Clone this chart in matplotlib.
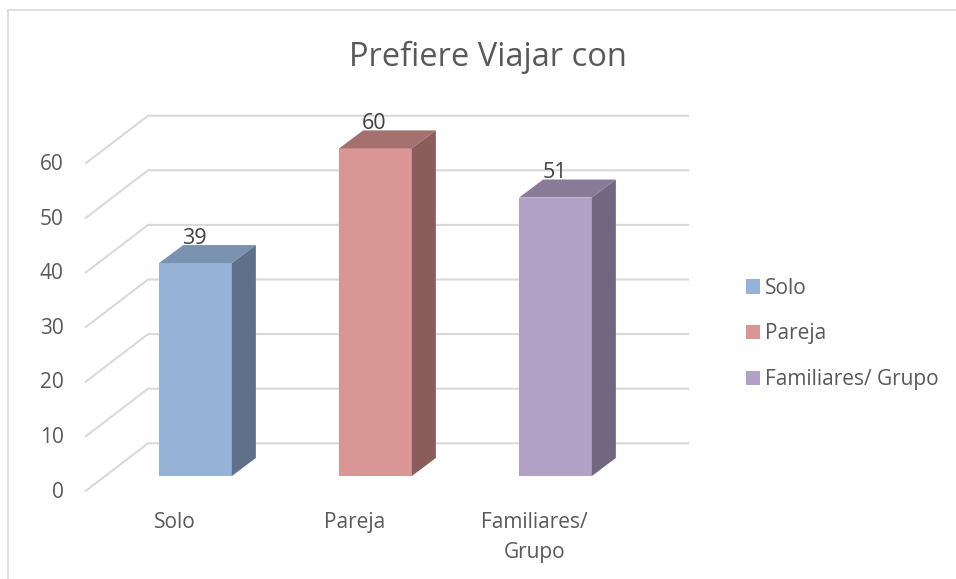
import matplotlib
matplotlib.use("Agg")
import matplotlib.pyplot as plt
from matplotlib.patches import Polygon, Patch
from matplotlib.transforms import ScaledTranslation

plt.rcParams['font.family'] = ['Open Sans', 'DejaVu Sans']

categories = ["Solo", "Pareja", "Familiares/\nGrupo"]
legend_labels = ["Solo", "Pareja", "Familiares/ Grupo"]
values = [39, 60, 51]
y_ticks = [0, 10, 20, 30, 40, 50, 60]
title = "Prefiere Viajar con"

front_colors = ["#95B3D7", "#D99694", "#B3A2C7"]
top_colors = ["#7A92B0", "#A4716F", "#887B98"]
side_colors = ["#5F7188", "#8A5C5B", "#726781"]

W, H = 956, 579
fig = plt.figure(figsize=(W / 100, H / 100), dpi=100, facecolor="white")

# page frame lines
fig.add_artist(plt.Line2D([7.5 / W, 7.5 / W], [0, 1 - 9.5 / H], color="#D9D9D9", lw=1.2))
fig.add_artist(plt.Line2D([7.5 / W, 1], [1 - 9.5 / H, 1 - 9.5 / H], color="#D9D9D9", lw=1.2))

# axes box in pixels
ax_l, ax_r, ax_top, ax_bot = 86, 688, 115, 491
ax = fig.add_axes([ax_l / W, 1 - ax_bot / H, (ax_r - ax_l) / W, (ax_bot - ax_top) / H])

px_per_cat = 180.0
px_per_val = 5.46
x0_px = 195.5   # px centre of first bar
y0_px = 476.0   # px of value 0 on the bar plane
ax.set_xlim((ax_l - x0_px) / px_per_cat, (ax_r - x0_px) / px_per_cat)
ax.set_ylim((y0_px - ax_bot) / px_per_val, (y0_px - ax_top) / px_per_val)
for s in ax.spines.values():
    s.set_visible(False)
ax.patch.set_alpha(0)

# depth of the pseudo 3-D view, data units
bar_w = 72.7 / px_per_cat
dx = 24.0 / px_per_cat
dy = 18.0 / px_per_val
# wall / floor geometry
wall_x = (148 - x0_px) / px_per_cat
front_x = (ax_l - x0_px) / px_per_cat
right_x = (ax_r - x0_px) / px_per_cat
front_off = (y0_px - 490.7) / px_per_val
wall_off = (y0_px - 443.3) / px_per_val

for t in y_ticks:
    ax.plot([front_x, wall_x, right_x],
            [t + front_off, t + wall_off, t + wall_off],
            color="#D9D9D9", lw=1.5, zorder=1, clip_on=False, solid_joinstyle="miter")

for i, v in enumerate(values):
    l, r = i - bar_w / 2, i + bar_w / 2
    ax.bar(i, v, width=bar_w, color=front_colors[i], zorder=3, linewidth=0)
    ax.add_patch(Polygon([(l, v), (r, v), (r + dx, v + dy), (l + dx, v + dy)],
                         closed=True, facecolor=top_colors[i], lw=0, zorder=3, clip_on=False))
    ax.add_patch(Polygon([(r, 0), (r + dx, dy), (r + dx, v + dy), (r, v)],
                         closed=True, facecolor=side_colors[i], lw=0, zorder=3, clip_on=False))
    ax.text(i - 1 / px_per_cat, v + 25 / px_per_val, str(v), ha="center", va="center",
            fontsize=15.5, color="#404040", zorder=4)

# axis ticks and labels, moved to the front edge of the floor
ax.set_yticks(y_ticks)
ax.set_yticklabels([str(t) for t in y_ticks])
ax.tick_params(axis="y", length=0, pad=16, labelsize=15, labelcolor="#595959")
ax.set_xticks(range(len(categories)))
ax.set_xticklabels(categories, linespacing=1.6)
ax.tick_params(axis="x", length=0, pad=15, labelsize=15, labelcolor="#595959")
for lab in ax.get_yticklabels():
    lab.set_transform(lab.get_transform() + ScaledTranslation(0, -13.7 / 100, fig.dpi_scale_trans))
for lab in ax.get_xticklabels():
    lab.set_transform(lab.get_transform() + ScaledTranslation(-21 / 100, 0, fig.dpi_scale_trans))

fig.text(488 / W, 1 - 57 / H, title, ha="center", va="center", fontsize=23.5, color="#595959")

handles = [Patch(facecolor=c, edgecolor="none") for c in front_colors]
leg = fig.legend(handles, legend_labels, loc="center left",
                 bbox_to_anchor=(746 / W, 1 - 334 / H), frameon=False,
                 fontsize=15, labelcolor="#595959", borderpad=0, borderaxespad=0,
                 handlelength=0.68, handleheight=0.68, handletextpad=0.25, labelspacing=1.19)

fig.savefig("out.png", dpi=100, facecolor="white")
